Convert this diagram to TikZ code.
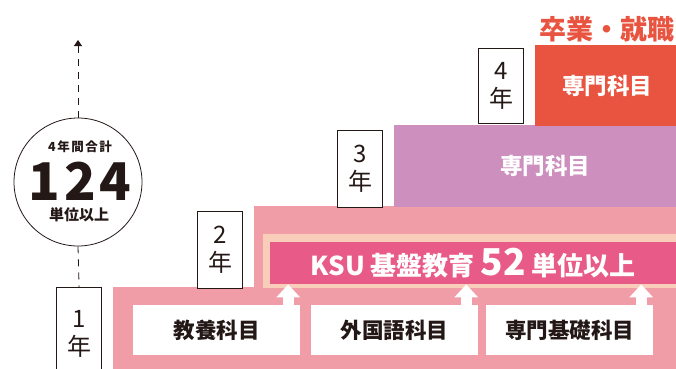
\documentclass[tikz,border=0pt]{standalone}
\usepackage{fontspec}
\setmainfont{Noto Sans CJK JP}
\usetikzlibrary{arrows.meta,positioning}
\definecolor{pinkL}{RGB}{241,157,168}
\definecolor{pinkD}{RGB}{232,90,135}
\definecolor{peachC}{RGB}{248,205,185}
\definecolor{purpleC}{RGB}{204,143,190}
\definecolor{redC}{RGB}{232,84,64}
\definecolor{inkC}{RGB}{35,24,21}
\newcommand{\spaced}[1]{\addfontfeature{LetterSpace=#1}}

\begin{document}
\begin{tikzpicture}[x=1pt,y=-1pt,line cap=butt,
  band/.style={anchor=north west,inner sep=0pt},
  yearbox/.style={draw=inkC,line width=0.8pt,fill=white,minimum width=45pt,minimum height=77pt,inner sep=0pt,align=center,text=inkC,font=\fontsize{24}{28}\selectfont},
  subjbox/.style={fill=white,minimum width=167pt,minimum height=50pt,inner sep=0pt,text=inkC,font=\bfseries\fontsize{21.5}{24}\selectfont},
  bandlabel/.style={text=white,font=\bfseries\fontsize{22.5}{25}\selectfont},
  circtext/.style={text=inkC,inner sep=0pt},
  upar/.style={white,line width=11pt,-{Triangle[width=23pt,length=13pt]}},
  dashline/.style={inkC,line width=0.8pt,dash pattern=on 7pt off 6pt}]

\useasboundingbox (0,0) rectangle (676,368);

% stair bands
\node[band,fill=pinkL,minimum width=577pt,minimum height=93pt] (band1) at (113,287) {};
\node[band,fill=pinkL,minimum width=436pt,minimum height=82pt] (band2) at (254,206) {};
\node[band,fill=purpleC,minimum width=302pt,minimum height=82pt,bandlabel] (band3) at (394,125) {専門科目};
\node[band,fill=redC,minimum width=144pt,minimum height=81pt,bandlabel] (band4) at (535,45) {専門科目};
\node[above=3pt of band4.north,text=redC,font=\bfseries\fontsize{27}{30}\selectfont,inner sep=0pt] (goal) {卒業・就職};

% KSU band
\fill[peachC] (263,234) rectangle (690,288);
\node[band,fill=pinkD,minimum width=406pt,minimum height=42pt,text=white,font=\bfseries\fontsize{26}{28}\selectfont] (ksu) at (270,242)
  {KSU 基盤教育 {\fontsize{37}{37}\selectfont 52} 単位以上};

% subjects
\node[subjbox] (kyoyo) at (216.5,330) {教養科目};
\node[subjbox] (gaikoku) at (394.5,330) {外国語科目};
\node[subjbox] (senkiso) at (569.5,330) {専門基礎科目};
\foreach \b in {kyoyo,gaikoku,senkiso}
  \draw[upar] ([xshift=-12pt]\b.north east) -- ([xshift=-12pt]\b.north east |- ksu.south);

% year boxes
\node[yearbox,anchor=north east,minimum height=93pt] (y1) at ([xshift=-11pt]band1.north west) {1\\年};
\node[yearbox,anchor=south east] (y2) at ([xshift=-11pt]band2.south west) {2\\年};
\node[yearbox,anchor=south east] (y3) at ([xshift=-11pt]band3.south west) {3\\年};
\node[yearbox,anchor=south east,minimum height=75pt] (y4) at ([xshift=-11pt,yshift=3pt]band4.south west) {4\\年};

% total credits
\node[circle,draw=inkC,line width=0.8pt,minimum size=128pt] (total) at (78,182) {};
\node[circtext,font=\bfseries\fontsize{12.5}{14}\selectfont\spaced{12}] (totaltop) at (80,147) {4年間合計};
\node[circtext,anchor=base,text height=37pt,text depth=0pt,font=\bfseries\fontsize{52}{54}\selectfont\spaced{8}] (totalnum) at (80,200) {124};
\node[circtext,font=\bfseries\fontsize{15}{17}\selectfont] (totalunit) at (79,215) {単位以上};
\coordinate (top) at (78,40);
\draw[dashline,-{Triangle[width=8pt,length=6pt]}] (total.north) -- (top);
\draw[dashline] (total.south) -- (y1.north);
\end{tikzpicture}
\end{document}
